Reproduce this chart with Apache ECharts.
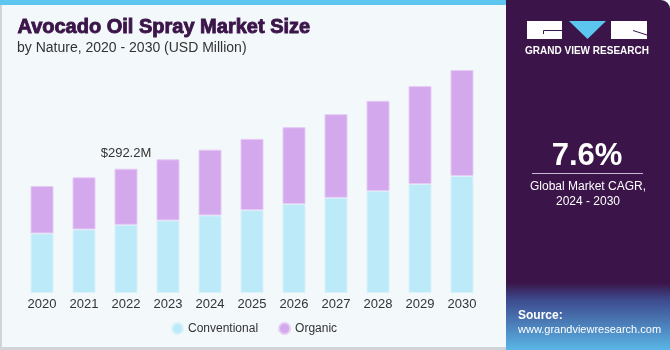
<!DOCTYPE html>
<html>
<head>
<meta charset="utf-8">
<script src="https://cdn.jsdelivr.net/npm/echarts@6/dist/echarts.min.js"></script>
<style>
  html, body { margin: 0; padding: 0; }
  #chart { width: 670px; height: 350px; }
</style>
</head>
<body>
<div id="chart"></div>
<script>
const years = ['2020', '2021', '2022', '2023', '2024', '2025', '2026', '2027', '2028', '2029', '2030']
const conventional = [140.0, 149.4, 160.2, 170.6, 182.4, 194.8, 209.0, 223.8, 239.6, 256.1, 275.0]
const organic = [111.4, 122.5, 132.0, 143.7, 154.5, 167.4, 180.7, 196.6, 212.1, 230.2, 249.0]
const labelIndex = 2
const labelText = '$292.2M'

const font = 'Liberation Sans, Arial, sans-serif'
const purple = '#3b1549'
const chart = echarts.init(document.getElementById('chart'))

const option = {
  backgroundColor: '#f3f8fb',
  animation: false,
  textStyle: { fontFamily: font },
  grid: { left: 21, width: 462, top: 59, height: 234 },
  legend: {
    data: ['Conventional', 'Organic'],
    bottom: 10,
    left: 166,
    icon: 'circle',
    itemWidth: 11,
    itemHeight: 11,
    itemGap: 20,
    textStyle: { color: '#333', fontSize: 12, fontFamily: font }
  },
  xAxis: {
    type: 'category',
    data: years,
    axisLine: { show: false },
    axisTick: { show: false },
    axisLabel: { color: '#333', fontSize: 13, margin: 5 }
  },
  yAxis: {
    type: 'value',
    min: 0,
    max: 550,
    show: false
  },
  series: [
    {
      name: 'Conventional',
      type: 'bar',
      stack: 'total',
      barWidth: 23,
      data: conventional,
      itemStyle: { color: '#bdeaf8', borderColor: '#d8f1fb', borderWidth: 1 }
    },
    {
      name: 'Organic',
      type: 'bar',
      stack: 'total',
      barWidth: 23,
      data: organic,
      itemStyle: { color: '#d4a8ec', borderColor: '#e6cbf4', borderWidth: 1 },
      label: {
        show: true,
        position: 'top',
        distance: 9,
        color: '#333',
        fontSize: 13,
        formatter: p => p.dataIndex === labelIndex ? labelText : ''
      }
    }
  ],
  graphic: [
    // top accent and panel borders
    { type: 'rect', shape: { x: 0, y: 0, width: 506, height: 5 }, style: { fill: '#5cc6ee' } },
    { type: 'rect', shape: { x: 0, y: 5, width: 2, height: 345 }, style: { fill: '#d0d4d8' } },
    { type: 'rect', shape: { x: 0, y: 347, width: 506, height: 3 }, style: { fill: '#d0d4d8' } },
    {
      type: 'text', left: 17, top: 17,
      style: { text: 'Avocado Oil Spray Market Size', fill: purple, stroke: purple, lineWidth: 0.9, font: 'bold 20px ' + font }
    },
    {
      type: 'text', left: 17, top: 41,
      style: { text: 'by Nature, 2020 - 2030 (USD Million)', fill: '#333', font: '14px ' + font }
    },
    // right panel
    { type: 'rect', shape: { x: 506, y: 0, width: 164, height: 350, r: [0, 9, 0, 0] }, style: { fill: purple } },
    {
      type: 'rect', shape: { x: 506, y: 283, width: 164, height: 67 },
      style: {
        fill: new echarts.graphic.LinearGradient(0, 0, 0, 1, [
          { offset: 0, color: purple },
          { offset: 0.25, color: '#3d4a8e' },
          { offset: 1, color: '#5ab6e6' }
        ])
      }
    },
    // logo
    { type: 'rect', shape: { x: 527, y: 21, width: 35, height: 18 }, style: { fill: '#ffffff' } },
    { type: 'polyline', shape: { points: [[543.5, 34], [543.5, 30.5], [562, 30.5]] }, style: { stroke: purple, lineWidth: 1 } },
    { type: 'polygon', shape: { points: [[569, 21], [606, 21], [587.5, 39]] }, style: { fill: '#5cc6ee' } },
    { type: 'rect', shape: { x: 611, y: 21, width: 36, height: 18 }, style: { fill: '#ffffff' } },
    { type: 'polyline', shape: { points: [[633, 30.5], [647, 35]] }, style: { stroke: purple, lineWidth: 1 } },
    {
      type: 'text', x: 587, y: 51,
      style: { text: 'GRAND VIEW RESEARCH', fill: '#ffffff', font: 'bold 10px ' + font, align: 'center', verticalAlign: 'middle' }
    },
    {
      type: 'text', x: 587, y: 156,
      style: { text: '7.6%', fill: '#ffffff', font: 'bold 31px ' + font, align: 'center', verticalAlign: 'middle' }
    },
    { type: 'rect', shape: { x: 532, y: 173, width: 111, height: 1 }, style: { fill: '#c9b8d2' } },
    {
      type: 'text', x: 588, y: 187,
      style: { text: 'Global Market CAGR,', fill: '#ffffff', font: '12px ' + font, align: 'center', verticalAlign: 'middle' }
    },
    {
      type: 'text', x: 588, y: 202,
      style: { text: '2024 - 2030', fill: '#ffffff', font: '12px ' + font, align: 'center', verticalAlign: 'middle' }
    },
    {
      type: 'text', x: 518, y: 316,
      style: { text: 'Source:', fill: '#ffffff', font: 'bold 12px ' + font, verticalAlign: 'middle' }
    },
    {
      type: 'text', x: 518, y: 330,
      style: { text: 'www.grandviewresearch.com', fill: '#ffffff', font: '11px ' + font, verticalAlign: 'middle' }
    }
  ]
}

chart.setOption(option)
</script>
</body>
</html>
